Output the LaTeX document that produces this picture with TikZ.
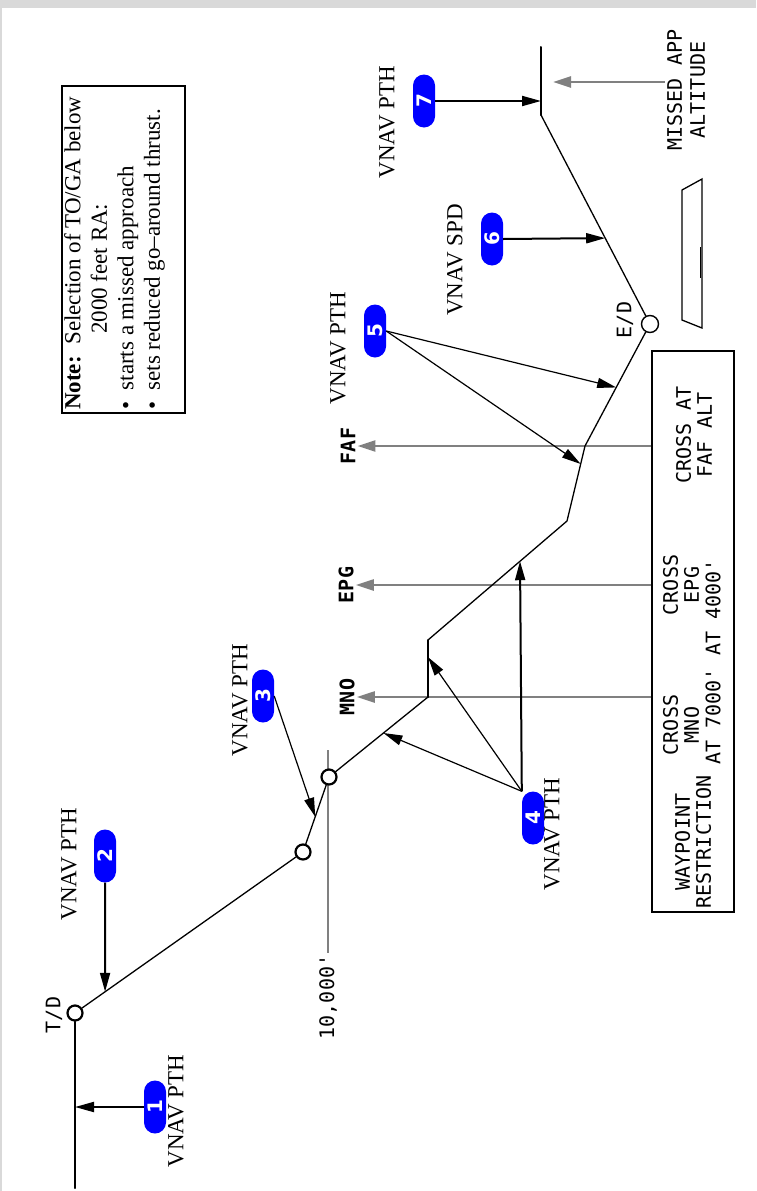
\documentclass[tikz,border=0pt]{standalone}
\usepackage{fontspec}
\setmainfont{Liberation Serif}
\setsansfont{DejaVu Sans}
\setmonofont{DejaVu Sans Mono}
\usetikzlibrary{arrows.meta,calc}
\newcommand{\badge}[3]{\node[badge] (#1) at (#2) {#3}}
\newcommand{\vnav}[3]{\node[vnav] (#1) at (#2) {#3}}
\newcommand{\wpt}[2]{\node[wpt] (#1) at (#2) {}}
\newcommand{\callout}[3]{\draw[#1] (#2) -- (#3)}

\begin{document}
\begin{tikzpicture}[x=1pt, y=-1pt,
  badge/.style={fill=blue, text=white, rounded corners=11pt, minimum width=53pt,
    minimum height=22pt, inner sep=0pt, rotate=90,
    font=\sffamily\bfseries\fontsize{20}{20}\selectfont},
  vnav/.style={rotate=90, inner sep=0pt, font=\fontsize{23}{27}\selectfont},
  mono/.style={rotate=90, inner sep=2pt, align=center,
    font=\ttfamily\fontsize{20}{23}\selectfont},
  boxt/.style={mono, font=\ttfamily\fontsize{20}{21}\selectfont},
  monob/.style={mono, font=\ttfamily\bfseries\fontsize{20}{23}\selectfont},
  wpt/.style={circle, draw, fill=white, line width=2.2pt, minimum size=15pt, inner sep=0pt},
  route/.style={line width=1.3pt, line cap=round},
  mur/.style={line width=2pt, line cap=round},
  fleche/.style={line width=2pt, -{Triangle[length=19pt,width=10pt]}},
  fin/.style={line width=1.2pt, -{Triangle[length=19pt,width=10pt]}},
  grisf/.style={draw=gray, line width=2.3pt, -{Triangle[length=18pt,width=11pt]}}]
\useasboundingbox (0,0) rectangle (756,1191);
\fill[gray!30] (0,0) rectangle (756,8);
\fill[gray!30] (0,0) rectangle (2,1191);
%The note
	\node[draw, line width=2pt, minimum width=123pt, minimum height=327pt] (notebox) at (123.5,249.5) {};
	\node[rotate=90, anchor=north west, align=left, inner sep=1pt,
	  font=\fontsize{23}{26.5}\selectfont] (note) at (63,411)
	  {\textbf{Note:}\enspace Selection of TO/GA below\\
	   \hspace*{3.3em}2000 feet RA:\\
	   •\enspace starts a missed approach\\
	   •\enspace sets reduced go–around thrust.};
%Waypoint restrictions
	\node[draw, line width=1.6pt, minimum width=82pt, minimum height=561pt, inner sep=0pt] (box) at (693,631.5) {};
	\node[boxt] (r1) at (693,842) {WAYPOINT\\RESTRICTION};
	\node[boxt] (r2) at (681,725) {CROSS\\MNO};
	\node[boxt] (r3) at (681,585) {CROSS\\EPG};
	\node[boxt] (r4) at (713,662) {AT 7000' AT 4000'};
	\node[boxt] (r5) at (694,435) {CROSS AT\\FAF ALT};
%Fix names
	\node[monob] (lmno) at (347,697) {MNO};
	\node[monob] (lepg) at (346,585) {EPG};
	\node[monob] (lfaf) at (348,446) {FAF};
	\callout{grisf}{box.west |- lmno}{lmno.south};
	\callout{grisf}{box.west |- lepg}{lepg.south};
	\callout{grisf}{box.west |- lfaf}{lfaf.south};
%Altitudes
	\node[mono] (lten) at (328,997) {10,000'};
	\coordinate (tick) at (328,750);
	\draw[gray, line width=1.5pt] (lten.east) -- (tick);
	\node[mono] (lmiss) at (686,90) {MISSED APP\\ALTITUDE};
	\coordinate (ma) at (553,82);
	\callout{grisf}{lmiss.north |- ma}{ma};
%Runway
	\draw[line width=1.3pt] (682,190) -- (702,179) -- (702,328) -- (682,320) -- cycle;
	\draw[line width=1pt] (700,247) -- (700,278);
%The descent path
	\coordinate (c0) at (75,1188);
	\wpt{td}{75,1013};
	\wpt{w1}{303,852};
	\wpt{w2}{329,777};
	\coordinate (mno) at (428,697);
	\coordinate (m1) at (428,640);
	\coordinate (m2) at (567,521);
	\coordinate (faf) at (585,446);
	\node[wpt, minimum size=17pt, line width=1.4pt] (ed) at (650,324) {};
	\coordinate (m3) at (541,115);
	\coordinate (m4) at (541,47);
	\draw[mur] (c0) -- (td);
	\draw[route] (td) -- (w1) -- (w2) -- (mno);
	\draw[mur] (mno) -- (m1);
	\draw[route] (m1) -- (m2) -- (faf) -- (ed) -- (m3);
	\draw[mur] (m3) -- (m4);
	\node[mono] (ltd) at (54,1015) {T/D};
	\node[mono] (led) at (625,320) {E/D};
%The modes
	\badge{b1}{155,1107}{1};
	\badge{b2}{105,856}{2};
	\badge{b3}{263,696}{3};
	\badge{b4}{533,818}{4};
	\badge{b5}{375,331}{5};
	\badge{b6}{492,239}{6};
	\badge{b7}{424,101}{7};
	\vnav{v1}{176,1111}{VNAV PTH};
	\vnav{v2}{69,864}{VNAV PTH};
	\vnav{v3}{240,700}{VNAV PTH};
	\vnav{v4}{552,834}{VNAV PTH};
	\vnav{v5}{338,348}{VNAV PTH};
	\vnav{v6}{455,260}{VNAV SPD};
	\vnav{v7}{387,122}{VNAV PTH};
	\callout{fleche}{b1.north}{td |- b1};
	\callout{fleche}{b2.west}{$(td)!0.132!(w1)$};
	\callout{fin}{b3.south}{$(w1)!0.47!(w2)$};
	\callout{fleche}{b4.north east}{$(m1)!0.662!(m2)$};
	\callout{fin}{b4.north east}{$(mno)!0.7!(m1)$};
	\callout{fin}{b4.north east}{$(w2)!0.55!(mno)$};
	\callout{fin}{b5.south}{$(faf)!0.48!(ed)$};
	\callout{fin}{b5.south}{$(m2)!0.76!(faf)$};
	\callout{fleche}{b6.south}{$(ed)!0.411!(m3)$};
	\callout{fleche}{b7.south}{m3 |- b7};
\end{tikzpicture}
\end{document}
